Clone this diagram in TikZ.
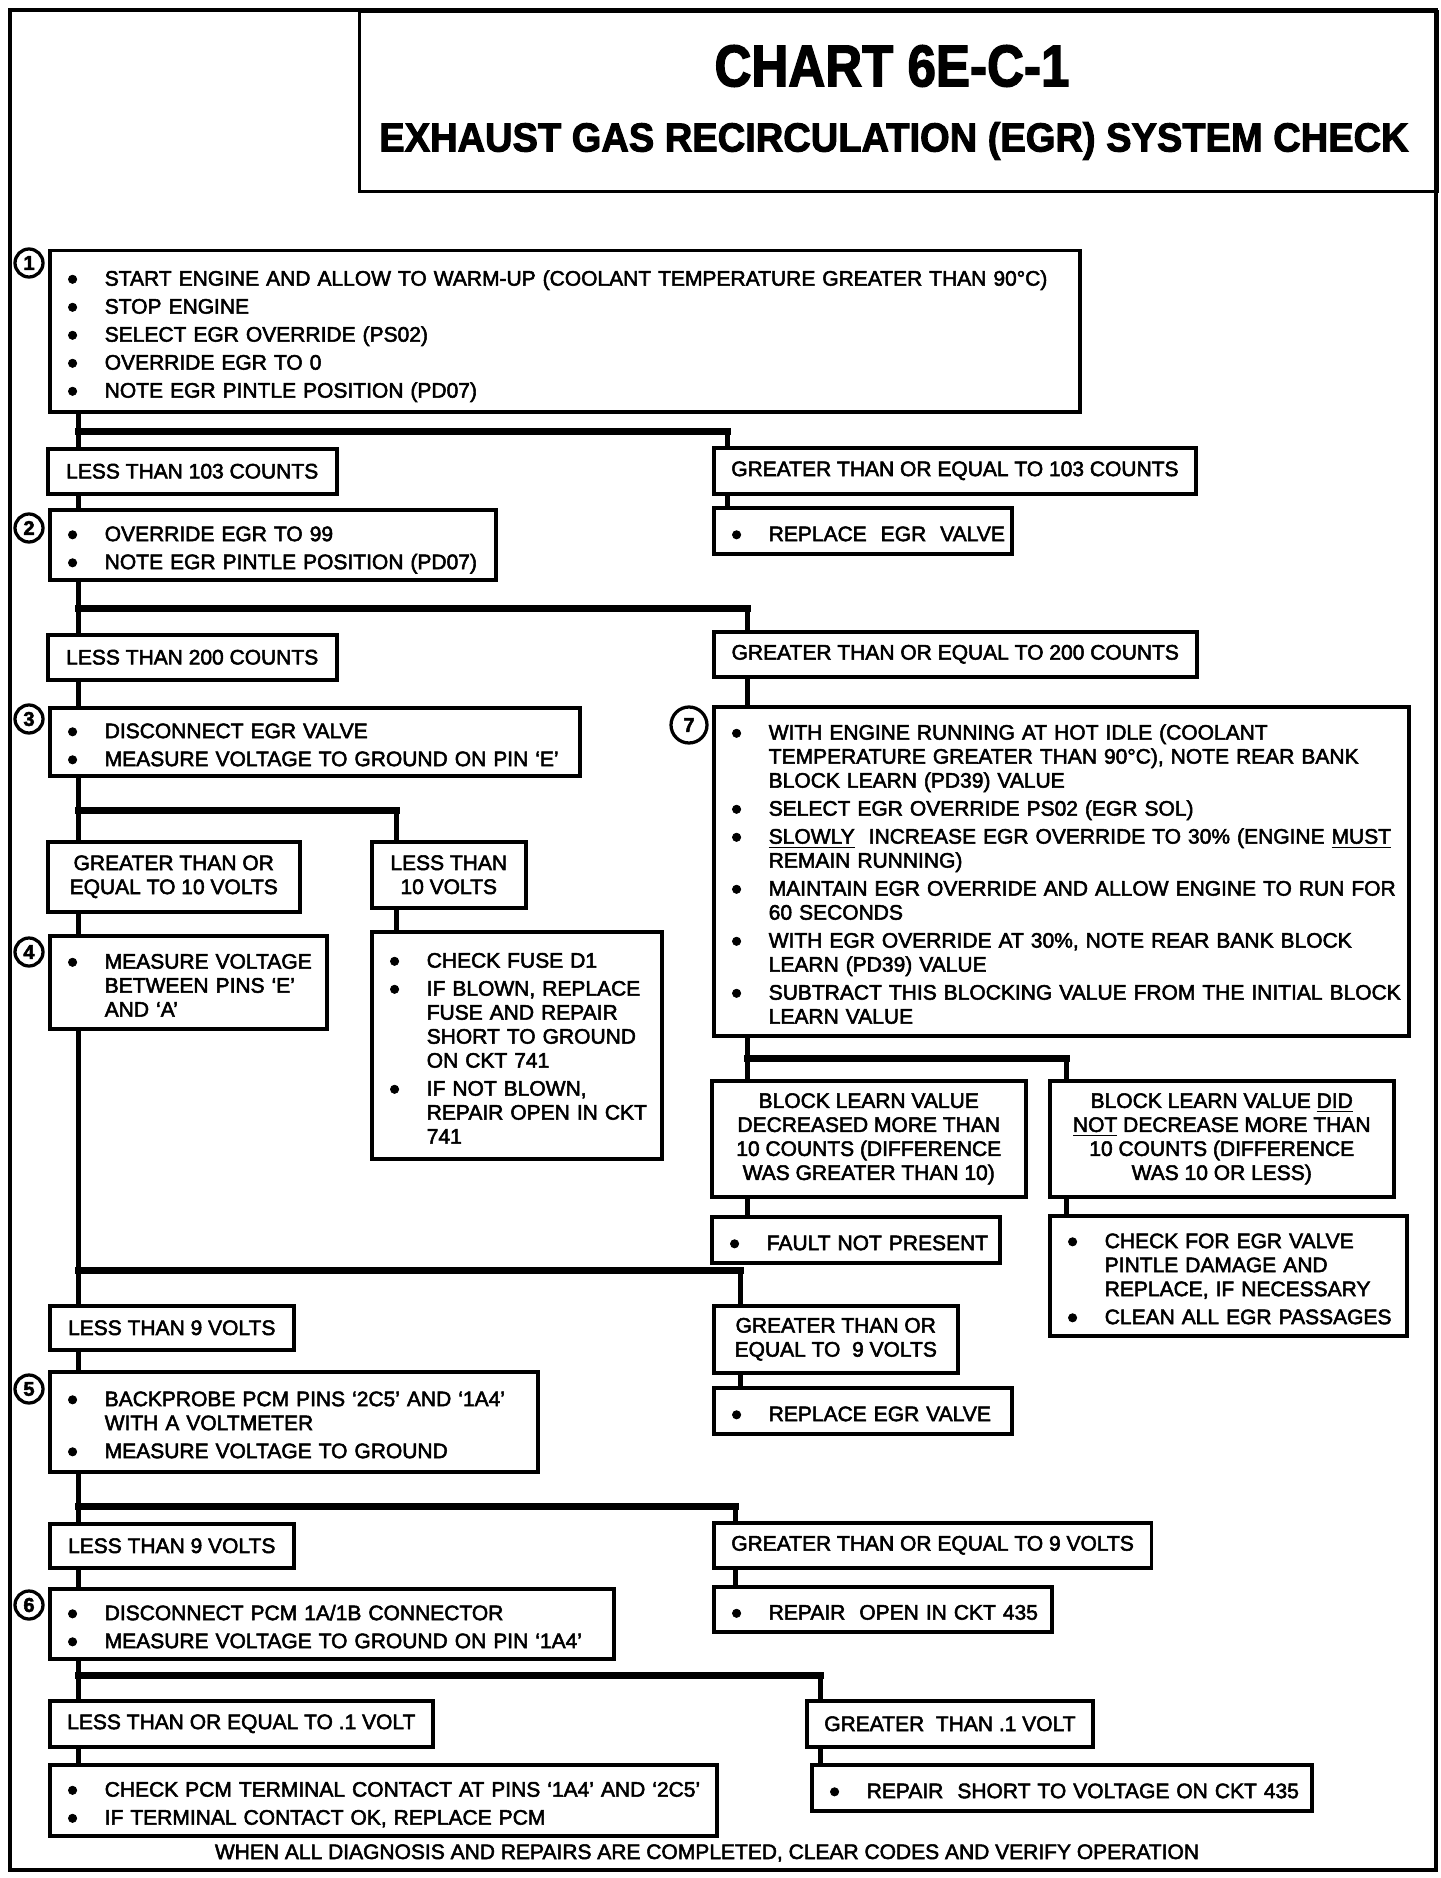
\documentclass[tikz,border=0pt]{standalone}
\usepackage{fontspec}
\setmainfont{Liberation Sans}[FakeBold=2.5]
\usepackage{graphicx}
\newcommand{\bodyfont}{\fontsize{8.4}{9.6}\selectfont}
\newcommand{\actfont}{\bodyfont\setlength{\parskip}{1.6pt}\setlength{\lineskip}{0pt}\setlength{\lineskiplimit}{0pt}}
\newcommand{\itm}[1]{\par\noindent\makebox[15pt][l]{\smash{\raisebox{-1.5pt}{\scalebox{1.45}{\textbullet}}}}\begin{tabular}[t]{@{}l@{}}#1\end{tabular}\par}
\tikzset{
    frame line/.style = {
        line width=1.3pt,
        },
    trunk/.style = {
        line width=2pt,
        },
    split bar/.style = {
        line width=2.8pt,
        line cap=rect,
        },
}
\begin{document}
\begin{tikzpicture}[
            x=0.4pt, y=-0.4pt,
            CondBlock/.style={draw, line width=1.4pt, anchor=north west, inner xsep=7pt, inner ysep=0pt, font=\bodyfont},
            CondMid/.style={CondBlock, align=center},
            ActBlock/.style={CondBlock, align=left, font=\actfont},
            StepMark/.style={circle, draw, line width=1.3pt, minimum size=11.2pt, inner sep=0pt, font=\fontsize{8}{8}\selectfont\bfseries},
            TitleBlock/.style={draw, line width=1.3pt, anchor=north west, inner sep=0pt}
            ]
            \useasboundingbox (0,0) rectangle (1440,1878);
            \draw[frame line] (10,10) rectangle (1436,1870);

            \node [TitleBlock, minimum width=431.2pt, minimum height=72pt] (hdr) at (358,10) {};
            \node [font=\fontsize{23.5}{24}\selectfont\bfseries] (hdrA) at (892,66) {\scalebox{0.87}[1]{CHART 6E-C-1}};
            \node [font=\fontsize{16.2}{17}\selectfont\bfseries] (hdrB) at (894,141) {\scalebox{0.94}[1]{EXHAUST GAS RECIRCULATION (EGR) SYSTEM CHECK}};

            \node [StepMark] (s1) at (29,263) {1};
            \node [ActBlock, text width=398pt, minimum height=64.4pt] (b1) at (48,249) {\itm{START ENGINE AND ALLOW TO WARM-UP (COOLANT TEMPERATURE GREATER THAN 90°C)}\itm{STOP ENGINE}\itm{SELECT EGR OVERRIDE (PS02)}\itm{OVERRIDE EGR TO 0}\itm{NOTE EGR PINTLE POSITION (PD07)}};

            \node [CondBlock, minimum width=115.6pt, minimum height=18pt] (lt103) at (46,447) {LESS THAN 103 COUNTS};
            \node [CondBlock, minimum width=192.4pt, minimum height=18.4pt] (ge103) at (712,446) {GREATER THAN OR EQUAL TO 103 COUNTS};
            \node [ActBlock, text width=105.2pt, minimum height=18.4pt] (rep1) at (712,506) {\itm{REPLACE~~EGR~~VALVE}};

            \node [StepMark] (s2) at (29,528) {2};
            \node [ActBlock, text width=164.4pt, minimum height=28pt] (b2) at (48,508) {\itm{OVERRIDE EGR TO 99}\itm{NOTE EGR PINTLE POSITION (PD07)}};

            \node [CondBlock, minimum width=115.6pt, minimum height=18pt] (lt200) at (46,633) {LESS THAN 200 COUNTS};
            \node [CondBlock, minimum width=193.2pt, minimum height=18pt] (ge200) at (712,630) {GREATER THAN OR EQUAL TO 200 COUNTS};

            \node [StepMark] (s3) at (29,719) {3};
            \node [ActBlock, text width=198pt, minimum height=27.2pt] (b3) at (48,706) {\itm{DISCONNECT EGR VALVE}\itm{MEASURE VOLTAGE TO GROUND ON PIN ‘E’}};

            \node [StepMark, minimum size=14.4pt] (s7) at (689,725) {7};
            \node [ActBlock, text width=264pt, minimum height=131.6pt] (b7) at (712,705) {%
                \itm{WITH ENGINE RUNNING AT HOT IDLE (COOLANT\\TEMPERATURE GREATER THAN 90°C), NOTE REAR BANK\\BLOCK LEARN (PD39) VALUE}%
                \itm{SELECT EGR OVERRIDE PS02 (EGR SOL)}%
                \itm{\underline{SLOWLY}~~INCREASE EGR OVERRIDE TO 30\% (ENGINE \underline{MUST}\\REMAIN RUNNING)}%
                \itm{MAINTAIN EGR OVERRIDE AND ALLOW ENGINE TO RUN FOR\\60 SECONDS}%
                \itm{WITH EGR OVERRIDE AT 30\%, NOTE REAR BANK BLOCK\\LEARN (PD39) VALUE}%
                \itm{SUBTRACT THIS BLOCKING VALUE FROM THE INITIAL BLOCK\\LEARN VALUE}};

            \node [CondMid, minimum width=100.8pt, minimum height=28pt] (ge10) at (46,840) {GREATER THAN OR\\EQUAL TO 10 VOLTS};
            \node [CondMid, minimum width=61.6pt, minimum height=26.4pt] (lt10) at (370,840) {LESS THAN\\10 VOLTS};

            \node [StepMark] (s4) at (29,952) {4};
            \node [ActBlock, text width=96.8pt, minimum height=37.2pt] (b4) at (48,934) {\itm{MEASURE VOLTAGE\\BETWEEN PINS ‘E’\\AND ‘A’}};
            \node [ActBlock, text width=102pt, minimum height=90.8pt] (fuse) at (370,930) {\itm{CHECK FUSE D1}\itm{IF BLOWN, REPLACE\\FUSE AND REPAIR\\SHORT TO GROUND\\ON CKT 741}\itm{IF NOT BLOWN,\\REPAIR OPEN IN CKT\\741}};

            \node [CondMid, minimum width=125.6pt, minimum height=46.4pt] (dec) at (710,1079) {BLOCK LEARN VALUE\\DECREASED MORE THAN\\10 COUNTS (DIFFERENCE\\WAS GREATER THAN 10)};
            \node [CondMid, minimum width=137.6pt, minimum height=46.4pt] (nodec) at (1048,1079) {BLOCK LEARN VALUE \underline{DID}\\\underline{NOT} DECREASE MORE THAN\\10 COUNTS (DIFFERENCE\\WAS 10 OR LESS)};
            \node [ActBlock, text width=101.2pt, minimum height=18.4pt] (fault) at (710,1215) {\itm{FAULT NOT PRESENT}};
            \node [ActBlock, text width=128.8pt, minimum height=48pt] (pintle) at (1048,1214) {\itm{CHECK FOR EGR VALVE\\PINTLE DAMAGE AND\\REPLACE, IF NECESSARY}\itm{CLEAN ALL EGR PASSAGES}};

            \node [CondBlock, minimum width=97.6pt, minimum height=17.6pt] (lt9a) at (48,1304) {LESS THAN 9 VOLTS};
            \node [CondMid, minimum width=97.6pt, minimum height=26.8pt] (ge9a) at (712,1304) {GREATER THAN OR\\EQUAL TO~~9 VOLTS};
            \node [ActBlock, text width=105.2pt, minimum height=18.4pt] (rep2) at (712,1386) {\itm{REPLACE EGR VALVE}};

            \node [StepMark] (s5) at (29,1389) {5};
            \node [ActBlock, text width=181.2pt, minimum height=40pt] (b5) at (48,1370) {\itm{BACKPROBE PCM PINS ‘2C5’ AND ‘1A4’\\WITH A VOLTMETER}\itm{MEASURE VOLTAGE TO GROUND}};

            \node [CondBlock, minimum width=97.6pt, minimum height=17.6pt] (lt9b) at (48,1522) {LESS THAN 9 VOLTS};
            \node [CondBlock, minimum width=174.4pt, minimum height=18pt] (ge9b) at (712,1521) {GREATER THAN OR EQUAL TO 9 VOLTS};
            \node [ActBlock, text width=121.2pt, minimum height=18pt] (rep3) at (712,1585) {\itm{REPAIR~~OPEN IN CKT 435}};

            \node [StepMark] (s6) at (29,1605) {6};
            \node [ActBlock, text width=211.6pt, minimum height=28pt] (b6) at (48,1587) {\itm{DISCONNECT PCM 1A/1B CONNECTOR}\itm{MEASURE VOLTAGE TO GROUND ON PIN ‘1A4’}};

            \node [CondBlock, minimum width=152.8pt, minimum height=18.4pt] (le01) at (48,1699) {LESS THAN OR EQUAL TO .1 VOLT};
            \node [CondBlock, minimum width=113.2pt, minimum height=18.4pt] (gt01) at (805,1699) {GREATER~~THAN .1 VOLT};
            \node [ActBlock, text width=252.8pt, minimum height=28.4pt] (b8) at (48,1763) {\itm{CHECK PCM TERMINAL CONTACT AT PINS ‘1A4’ AND ‘2C5’}\itm{IF TERMINAL CONTACT OK, REPLACE PCM}};
            \node [ActBlock, text width=186pt, minimum height=18.4pt] (rep4) at (810,1763) {\itm{REPAIR~~SHORT TO VOLTAGE ON CKT 435}};

            \node [font=\bodyfont] (foot) at (707,1853) {WHEN ALL DIAGNOSIS AND REPAIRS ARE COMPLETED, CLEAR CODES AND VERIFY OPERATION};

            \coordinate (j1) at (78,431);   \coordinate (k1) at (727,431);
            \coordinate (j2) at (78,608);   \coordinate (k2) at (747,608);
            \coordinate (j3) at (78,810);   \coordinate (k3) at (396,810);
            \coordinate (j7) at (747,1058); \coordinate (k7) at (1066,1058);
            \coordinate (j4) at (78,1270);  \coordinate (k4) at (740,1270);
            \coordinate (j5) at (78,1506);  \coordinate (k5) at (735,1506);
            \coordinate (j6) at (78,1675);  \coordinate (k6) at (820,1675);

            \draw[trunk] (b1.south -| j1) -- (lt103.north -| j1);
            \draw[trunk] (lt103.south -| j1) -- (b2.north -| j1);
            \draw[trunk] (b2.south -| j1) -- (lt200.north -| j1);
            \draw[trunk] (lt200.south -| j1) -- (b3.north -| j1);
            \draw[trunk] (b3.south -| j1) -- (ge10.north -| j1);
            \draw[trunk] (ge10.south -| j1) -- (b4.north -| j1);
            \draw[trunk] (b4.south -| j1) -- (lt9a.north -| j1);
            \draw[trunk] (lt9a.south -| j1) -- (b5.north -| j1);
            \draw[trunk] (b5.south -| j1) -- (lt9b.north -| j1);
            \draw[trunk] (lt9b.south -| j1) -- (b6.north -| j1);
            \draw[trunk] (b6.south -| j1) -- (le01.north -| j1);
            \draw[trunk] (le01.south -| j1) -- (b8.north -| j1);

            \draw[split bar] (j1) -- (k1);
            \draw[trunk] (k1) -- (k1 |- ge103.north);
            \draw[trunk] (ge103.south -| k1) -- (rep1.north -| k1);
            \draw[split bar] (j2) -- (k2);
            \draw[trunk] (k2) -- (k2 |- ge200.north);
            \draw[trunk] (ge200.south -| k2) -- (b7.north -| k2);
            \draw[split bar] (j3) -- (k3);
            \draw[trunk] (k3) -- (k3 |- lt10.north);
            \draw[trunk] (lt10.south -| k3) -- (fuse.north -| k3);
            \draw[trunk] (b7.south -| j7) -- (dec.north -| j7);
            \draw[split bar] (j7) -- (k7);
            \draw[trunk] (k7) -- (k7 |- nodec.north);
            \draw[trunk] (dec.south -| j7) -- (fault.north -| j7);
            \draw[trunk] (nodec.south -| k7) -- (pintle.north -| k7);
            \draw[split bar] (j4) -- (k4);
            \draw[trunk] (k4) -- (k4 |- ge9a.north);
            \draw[trunk] (ge9a.south -| k4) -- (rep2.north -| k4);
            \draw[split bar] (j5) -- (k5);
            \draw[trunk] (k5) -- (k5 |- ge9b.north);
            \draw[trunk] (ge9b.south -| k5) -- (rep3.north -| k5);
            \draw[split bar] (j6) -- (k6);
            \draw[trunk] (k6) -- (k6 |- gt01.north);
            \draw[trunk] (gt01.south -| k6) -- (rep4.north -| k6);
\end{tikzpicture}
\end{document}
